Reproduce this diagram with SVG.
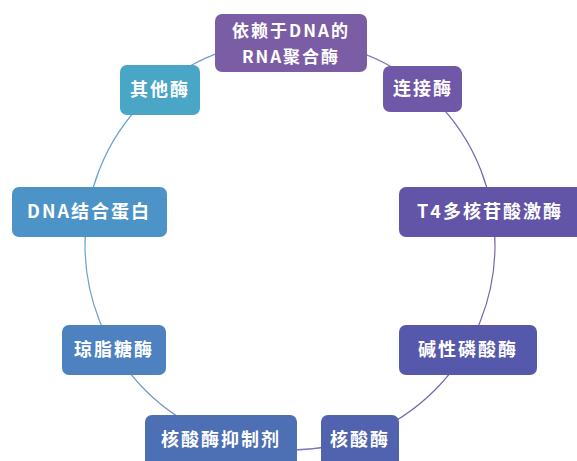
<svg xmlns="http://www.w3.org/2000/svg" width="577" height="461" viewBox="0 0 577 461">
<style>
.n rect{stroke:none}
.n text{fill:#ffffff;font-family:"Noto Sans CJK SC","Noto Sans",sans-serif;font-weight:bold;font-size:18px;text-anchor:middle;letter-spacing:2px}
.n text.s{font-size:17px}
.c{fill:none;stroke-width:1.2}
</style>
<defs>
<linearGradient id="cg" x1="0" y1="0" x2="1" y2="0.3">
<stop offset="0" stop-color="#5aa9d0"/>
<stop offset="0.5" stop-color="#7f8fc4"/>
<stop offset="1" stop-color="#7a63b0"/>
</linearGradient>
</defs>
<rect width="577" height="461" fill="#ffffff"/>
<g id="connectors">
<circle class="c" cx="290" cy="245" r="205" stroke="url(#cg)"/>
</g>
<g id="n1" class="n"><rect x="215" y="14" width="152" height="58" rx="7" fill="#7b5da6"/><text class="s" x="291" y="37">依赖于DNA的</text><text class="s" x="291" y="63">RNA聚合酶</text></g>
<g id="n2" class="n"><rect x="383" y="66" width="79" height="46" rx="7" fill="#6f58a8"/><text x="423" y="95">连接酶</text></g>
<g id="n3" class="n"><rect x="399" y="187" width="186" height="50" rx="7" fill="#6254a6"/><text x="490" y="218">T4多核苷酸激酶</text></g>
<g id="n4" class="n"><rect x="399" y="325" width="138" height="50" rx="7" fill="#5659ab"/><text x="468" y="356">碱性磷酸酶</text></g>
<g id="n5" class="n"><rect x="321" y="415" width="78" height="52" rx="7" fill="#5162ae"/><text x="360" y="446">核酸酶</text></g>
<g id="n6" class="n"><rect x="145" y="415" width="152" height="52" rx="7" fill="#4d6fb4"/><text x="221" y="446">核酸酶抑制剂</text></g>
<g id="n7" class="n"><rect x="62" y="325" width="104" height="50" rx="7" fill="#4d81bf"/><text x="114" y="356">琼脂糖酶</text></g>
<g id="n8" class="n"><rect x="12" y="187" width="155" height="50" rx="7" fill="#4c93c8"/><text x="89" y="218">DNA结合蛋白</text></g>
<g id="n9" class="n"><rect x="120" y="65" width="80" height="50" rx="7" fill="#4aa6c6"/><text x="160" y="96">其他酶</text></g>
</svg>
